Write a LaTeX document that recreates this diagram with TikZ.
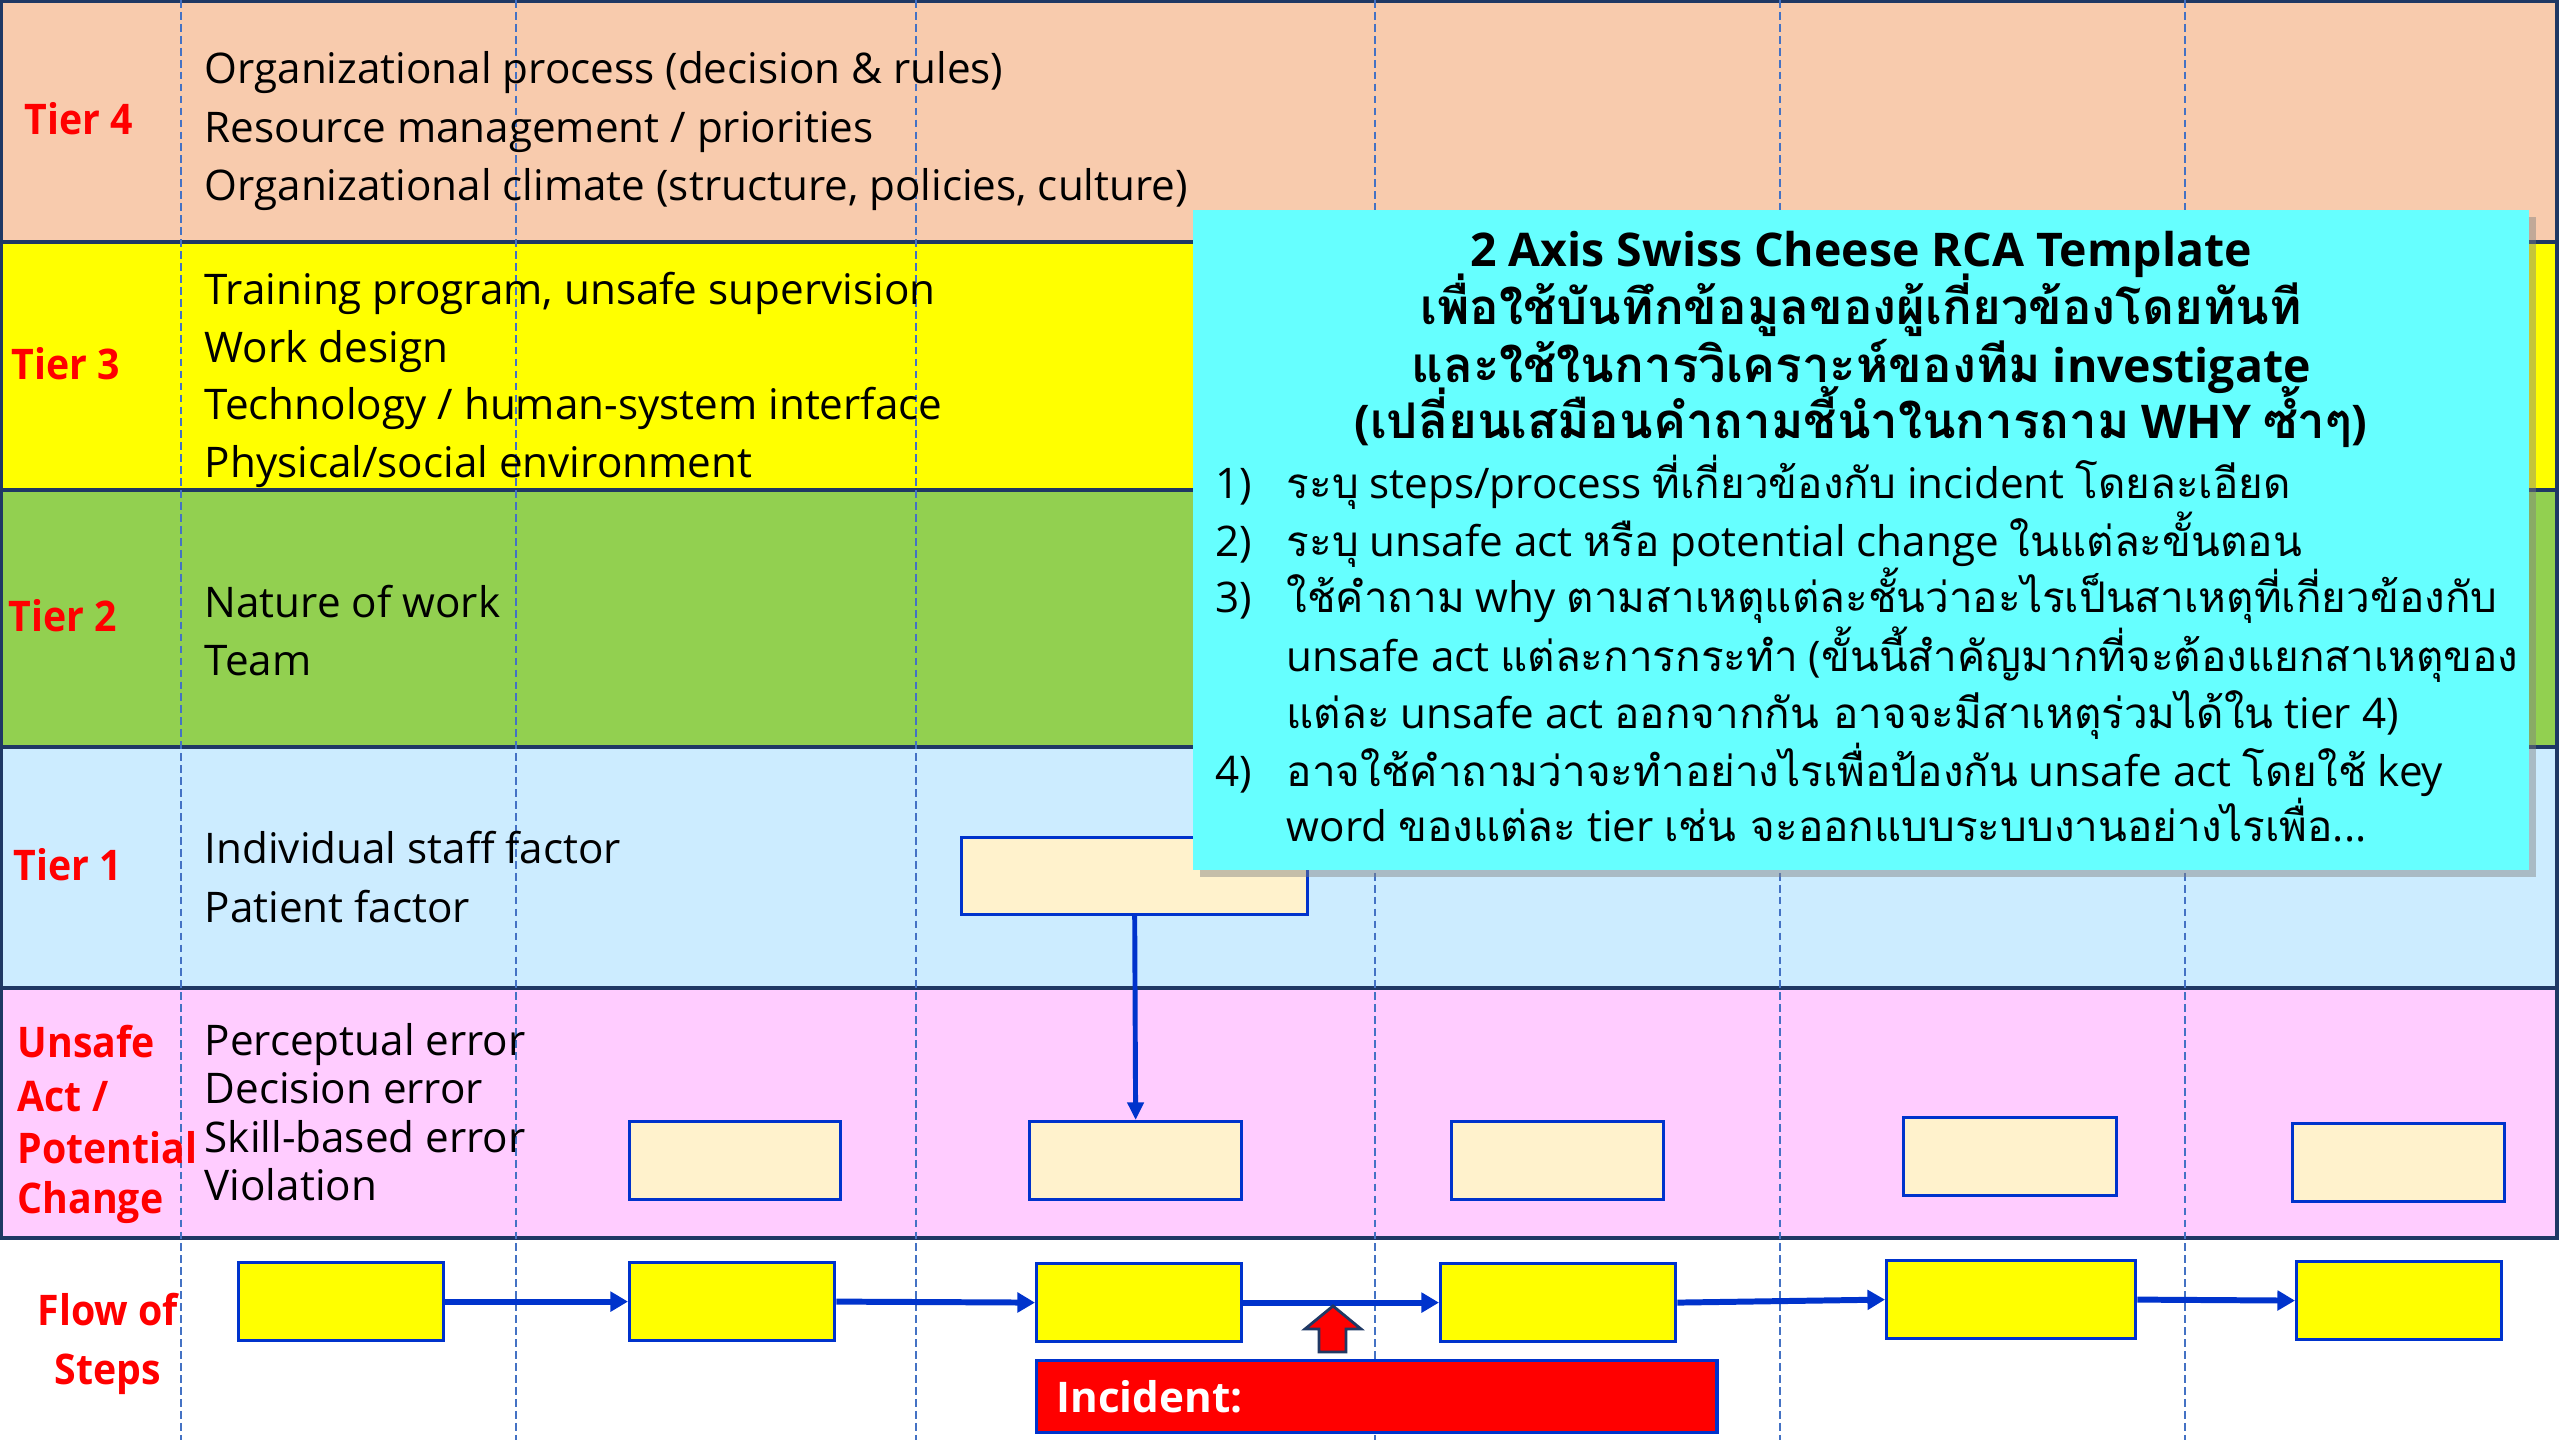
\documentclass[tikz,border=0pt]{standalone}
\usepackage{fontspec}
\setmainfont{Open Sans}
\newfontfamily\thaifont[Script=Thai]{Loma}
\newfontfamily\thaihead[Script=Thai,Scale=1.06]{Loma}
\newfontfamily\labelfont[FakeStretch=0.93]{Open Sans}
\usetikzlibrary{arrows.meta,shadows}

\definecolor{bandpeach}{RGB}{248,203,173}
\definecolor{bandyellow}{RGB}{255,255,0}
\definecolor{bandgreen}{RGB}{146,208,80}
\definecolor{bandblue}{RGB}{204,236,255}
\definecolor{bandpink}{RGB}{255,204,255}
\definecolor{bandline}{RGB}{31,56,100}
\definecolor{gridline}{RGB}{68,114,196}
\definecolor{boxblue}{RGB}{0,51,204}
\definecolor{cream}{RGB}{255,242,204}
\definecolor{notecyan}{RGB}{102,255,255}
\definecolor{labelred}{RGB}{255,0,0}

\tikzset{
  band/.style={draw=bandline, line width=1pt},
  grid/.style={draw=gridline, line width=0.45pt, dash pattern=on 2.2pt off 1.2pt},
  body/.style={font=\fontsize{12}{14}\selectfont, anchor=mid west, inner sep=0pt, text=black, yshift=-0.06cm},
  tierlbl/.style={font=\labelfont\fontsize{12}{14}\selectfont\bfseries, anchor=mid west, inner sep=0pt, text=labelred, yshift=-0.06cm},
  stepbox/.style={draw=boxblue, line width=0.9pt, fill=bandyellow, minimum width=2.05cm, minimum height=0.78cm, inner sep=0pt},
  actbox/.style={draw=boxblue, line width=0.9pt, fill=cream, minimum width=2.12cm, minimum height=0.78cm, inner sep=0pt},
  flow/.style={draw=boxblue, line width=1.7pt, -{Triangle[length=5pt,width=5.5pt]}},
  drop/.style={draw=boxblue, line width=1.4pt, -{Triangle[length=5pt,width=4.5pt]}},
  notetitle/.style={font=\fontsize{13.2}{15}\selectfont\bfseries, anchor=mid, inner sep=0pt, yshift=-0.06cm},
  notebody/.style={font=\fontsize{12}{14}\selectfont, anchor=mid west, inner sep=0pt, yshift=-0.06cm},
}

\begin{document}
\begin{tikzpicture}[x=0.01cm, y=-0.01cm]
\useasboundingbox (0,0) rectangle (2560,1440);
\fill[white] (0,0) rectangle (2560,1440);

% horizontal tiers
\path[band, fill=bandpeach]   (1,1)    rectangle (2557,242);
\path[band, fill=bandyellow]  (1,242)  rectangle (2557,490);
\path[band, fill=bandgreen]   (1,490)  rectangle (2557,747);
\path[band, fill=bandblue]    (1,747)  rectangle (2557,988);
\path[band, fill=bandpink]    (1,988)  rectangle (2557,1238);

% column guides
\foreach \gx in {181,516,916,1375,1780,2185}
  \draw[grid] (\gx,0) -- (\gx,1440);

% flow of steps
\node[stepbox, anchor=north west] (s1) at (237,1261) {};
\node[stepbox, anchor=north west] (s2) at (628,1261) {};
\node[stepbox, anchor=north west] (s3) at (1035,1262) {};
\node[stepbox, anchor=north west, minimum width=2.35cm] (s4) at (1439,1262) {};
\node[stepbox, anchor=north west, minimum width=2.49cm] (s5) at (1885,1259) {};
\node[stepbox, anchor=north west] (s6) at (2295,1260) {};
\draw[flow] (s1.east) -- (s2.west);
\draw[flow] (s2.east) -- (s3.west);
\draw[flow] (s3.east) -- (s4.west);
\draw[flow] (s4.east) -- (s5.west);
\draw[flow] (s5.east) -- (s6.west);

% unsafe act / potential change boxes
\node[actbox, anchor=north west, minimum width=2.11cm] (u1) at (628,1120) {};
\node[actbox, anchor=north west] (u2) at (1028,1120) {};
\node[actbox, anchor=north west] (u3) at (1450,1120) {};
\node[actbox, anchor=north west, minimum width=2.13cm] (u4) at (1902,1116) {};
\node[actbox, anchor=north west] (u5) at (2291,1122) {};

% tier 1 cause and its link down to the unsafe act
\node[actbox, anchor=north west, minimum width=3.46cm, minimum height=0.77cm] (c1) at (960,836) {};
\draw[drop] (c1.south) -- (u2.north);

% incident
\node[draw=boxblue, line width=0.9pt, fill=labelred, anchor=north west,
      minimum width=6.8cm, minimum height=0.72cm, text width=6.4cm, inner xsep=0.2cm,
      align=left, font=\fontsize{12}{14}\selectfont\bfseries, text=white] (inc) at (1035,1359) {Incident:};
\filldraw[fill=labelred, draw=bandline, line width=0.8pt]
  (1333,1306) -- (1361,1329) -- (1346,1329) -- (1346,1352) -- (1319,1352)
  -- (1319,1329) -- (1305,1329) -- cycle;

% note panel
\node[fill=notecyan, minimum width=13.36cm, minimum height=6.6cm, inner sep=0pt,
      drop shadow={shadow xshift=0.07cm, shadow yshift=-0.07cm, opacity=0.45}] (note) at (1861,540) {};

\node[notetitle] (n1) at (1861,251) {2 Axis Swiss Cheese RCA Template};
\node[notetitle] (n2) at (1861,309) {\thaihead เพื่อใช้บันทึกข้อมูลของผู้เกี่ยวข้องโดยทันที};
\node[notetitle] (n3) at (1861,367) {{\thaihead และใช้ในการวิเคราะห์ของทีม} investigate};
\node[notetitle] (n4) at (1861,423) {({\thaihead เปลี่ยนเสมือนคำถามชี้นำในการถาม} WHY {\thaihead ซ้ำๆ})};

\node[notebody] (k1) at (1215,483) {1)};
\node[notebody] (k2) at (1215,541) {2)};
\node[notebody] (k3) at (1215,597) {3)};
\node[notebody] (k4) at (1215,771) {4)};

\node[notebody] (m1) at (1286,483) {{\thaifont ระบุ} steps/process {\thaifont ที่เกี่ยวข้องกับ} incident {\thaifont โดยละเอียด}};
\node[notebody] (m2) at (1286,541) {{\thaifont ระบุ} unsafe act {\thaifont หรือ} potential change {\thaifont ในแต่ละขั้นตอน}};
\node[notebody] (m3) at (1286,597) {{\thaifont ใช้คำถาม} why {\thaifont ตามสาเหตุแต่ละชั้นว่าอะไรเป็นสาเหตุที่เกี่ยวข้องกับ}};
\node[notebody] (m4) at (1286,656) {unsafe act {\thaifont แต่ละการกระทำ} ({\thaifont ขั้นนี้สำคัญมากที่จะต้องแยกสาเหตุของ}};
\node[notebody] (m5) at (1286,713) {{\thaifont แต่ละ} unsafe act {\thaifont ออกจากกัน อาจจะมีสาเหตุร่วมได้ใน} tier 4)};
\node[notebody] (m6) at (1286,771) {{\thaifont อาจใช้คำถามว่าจะทำอย่างไรเพื่อป้องกัน} unsafe act {\thaifont โดยใช้} key};
\node[notebody] (m7) at (1286,826) {word {\thaifont ของแต่ละ} tier {\thaifont เช่น จะออกแบบระบบงานอย่างไรเพื่อ}...};

% row labels
\node[tierlbl] (r4) at (24,119) {Tier 4};
\node[tierlbl] (r3) at (11,364) {Tier 3};
\node[tierlbl] (r2) at (8,616) {Tier 2};
\node[tierlbl] (r1) at (13,865) {Tier 1};
\node[tierlbl] (ra) at (17,1042) {Unsafe};
\node[tierlbl] (rb) at (17,1096) {Act /};
\node[tierlbl] (rc) at (17,1148) {Potential};
\node[tierlbl] (rd) at (17,1198) {Change};
\node[tierlbl, anchor=mid] (re) at (108,1310) {Flow of};
\node[tierlbl, anchor=mid] (rf) at (108,1369) {Steps};

% row contents
\node[body] (a1) at (204,68)  {Organizational process (decision \& rules)};
\node[body] (a2) at (204,127) {Resource management / priorities};
\node[body] (a3) at (204,185) {Organizational climate (structure, policies, culture)};
\node[body] (b1) at (204,289) {Training program, unsafe supervision};
\node[body] (b2) at (204,347) {Work design};
\node[body] (b3) at (204,404) {Technology / human-system interface};
\node[body] (b4) at (204,462) {Physical/social environment};
\node[body] (c2a) at (204,602) {Nature of work};
\node[body] (c2b) at (204,660) {Team};
\node[body] (d1) at (204,848) {Individual staff factor};
\node[body] (d2) at (204,907) {Patient factor};
\node[body] (e1) at (204,1040) {Perceptual error};
\node[body] (e2) at (204,1088) {Decision error};
\node[body] (e3) at (204,1137) {Skill-based error};
\node[body] (e4) at (204,1185) {Violation};
\end{tikzpicture}
\end{document}
